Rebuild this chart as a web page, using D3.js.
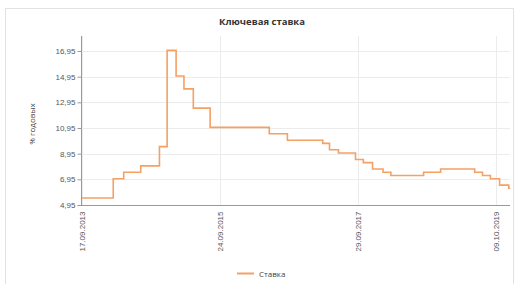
<!DOCTYPE html>
<html>
<head>
<meta charset="utf-8">
<script src="https://cdn.jsdelivr.net/npm/d3@7"></script>
<style>
  body { margin: 0; background: #fff; }
  svg { font-family: "Open Sans", "DejaVu Sans", sans-serif; }
  .grid line { stroke: #ececec; stroke-width: 1; }
  .axis text { fill: #555; font-size: 8px; }
  .axis path, .axis line { stroke: #999; }
</style>
</head>
<body>
<svg id="chart" width="518" height="284"></svg>
<script>
// dates when the key rate changed, and the rate from that date
var rateDates = ["2013-09-17", "2014-03-03", "2014-04-28", "2014-07-28", "2014-11-05",
                 "2014-12-16", "2015-02-02", "2015-03-16", "2015-05-05", "2015-08-03",
                 "2016-06-14", "2016-09-19", "2017-03-27", "2017-05-02", "2017-06-19",
                 "2017-09-18", "2017-10-30", "2017-12-18", "2018-02-12", "2018-03-26",
                 "2018-09-17", "2018-12-17", "2019-06-17", "2019-07-29", "2019-09-09",
                 "2019-10-28", "2019-12-16", "2019-12-24"];
var rateValues = [5.5, 7, 7.5, 8, 9.5,
                  17, 15, 14, 12.5, 11,
                  10.5, 10, 9.75, 9.25, 9,
                  8.5, 8.25, 7.75, 7.5, 7.25,
                  7.5, 7.75, 7.5, 7.25, 7,
                  6.5, 6.25, 6.25];
var xTickDates = ["2013-09-17", "2015-09-24", "2017-09-29", "2019-10-09"];
var yTicks = [4.95, 6.95, 8.95, 10.95, 12.95, 14.95, 16.95];

var parse = d3.timeParse("%Y-%m-%d");
var fmtDate = d3.timeFormat("%d.%m.%Y");
var data = rateDates.map(function(d, i) { return {date: parse(d), value: rateValues[i]}; });

var svg = d3.select("#chart");
var plotLeft = 81, plotRight = 510, plotTop = 36, plotBottom = 205;

// outer frame
svg.append("rect")
    .attr("x", 5.5).attr("y", 8.5)
    .attr("width", 508).attr("height", 290)
    .attr("fill", "none")
    .attr("stroke", "#e2e2e2");

var x = d3.scaleTime()
    .domain([parse(xTickDates[0]), parse(xTickDates[3])])
    .range([82, 496]);

var y = d3.scaleLinear()
    .domain([4.95, 16.95])
    .range([plotBottom, 51]);

// grid
var grid = svg.append("g").attr("class", "grid");
grid.selectAll("line.h")
    .data(yTicks)
    .enter().append("line")
    .attr("class", "h")
    .attr("x1", plotLeft).attr("x2", plotRight)
    .attr("y1", function(d) { return Math.round(y(d)) + 0.5; })
    .attr("y2", function(d) { return Math.round(y(d)) + 0.5; });
grid.selectAll("line.v")
    .data(xTickDates.map(parse))
    .enter().append("line")
    .attr("class", "v")
    .attr("y1", plotTop).attr("y2", plotBottom)
    .attr("x1", function(d) { return Math.round(x(d)) + 0.5; })
    .attr("x2", function(d) { return Math.round(x(d)) + 0.5; });

// axes
var yAxis = svg.append("g")
    .attr("class", "axis")
    .attr("transform", "translate(" + (plotLeft + 0.5) + ",0)")
    .call(d3.axisLeft(y).tickValues(yTicks).tickSize(4).tickPadding(2)
          .tickFormat(function(d) { return d3.format(".2f")(d).replace(".", ","); }));
yAxis.select(".domain").attr("d", "M0," + plotTop + "V" + plotBottom);

var xAxis = svg.append("g")
    .attr("class", "axis")
    .attr("transform", "translate(0," + (plotBottom + 0.5) + ")")
    .call(d3.axisBottom(x).tickValues(xTickDates.map(parse)).tickSize(0).tickFormat(fmtDate));
xAxis.select(".domain").attr("d", "M" + plotLeft + ",0H" + plotRight).attr("stroke", "#ccc");
xAxis.selectAll("text")
    .attr("transform", "rotate(-90)")
    .attr("text-anchor", "end")
    .attr("x", -6)
    .attr("y", 0)
    .attr("dy", "0.32em");

// line
var line = d3.line()
    .curve(d3.curveStepAfter)
    .x(function(d) { return x(d.date); })
    .y(function(d) { return y(d.value); });

svg.append("path")
    .datum(data)
    .attr("fill", "none")
    .attr("stroke", "#f5a064")
    .attr("stroke-width", 1.6)
    .attr("d", line);

// title
svg.append("text")
    .attr("x", 262).attr("y", 25)
    .attr("text-anchor", "middle")
    .attr("font-size", "9.5px")
    .attr("font-weight", "bold")
    .attr("fill", "#333")
    .text("Ключевая ставка");

// y label
svg.append("text")
    .attr("transform", "translate(35,124) rotate(-90)")
    .attr("text-anchor", "middle")
    .attr("font-size", "8px")
    .attr("fill", "#444")
    .text("% годовых");

// legend
svg.append("line")
    .attr("x1", 237).attr("x2", 254)
    .attr("y1", 273.5).attr("y2", 273.5)
    .attr("stroke", "#f5a064")
    .attr("stroke-width", 2);
svg.append("text")
    .attr("x", 259).attr("y", 276.5)
    .attr("font-size", "8px")
    .attr("fill", "#444")
    .text("Ставка");
</script>
</body>
</html>
